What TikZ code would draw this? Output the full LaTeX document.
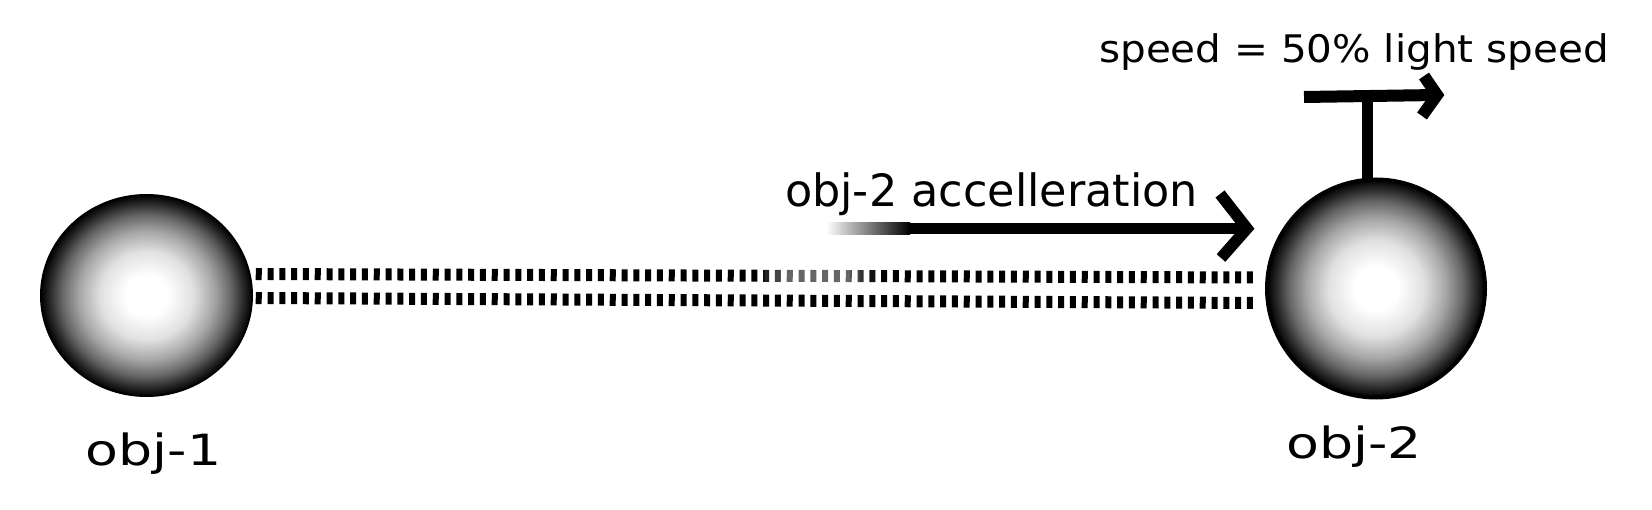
\documentclass[tikz,border=0pt]{standalone}
\usepackage{fontspec}
\setmainfont{DejaVu Sans}
\usetikzlibrary{positioning, calc, shapes.geometric}
\pgfdeclareradialshading{sphereshade}{\pgfpoint{0bp}{0bp}}{color(0bp)=(white); color(5bp)=(white); color(11bp)=(black!12); color(16bp)=(black!35); color(20bp)=(black!60); color(23bp)=(black!85); color(25bp)=(black); color(50bp)=(black)}
\tikzset{
    sphere/.style={draw, shade, shading=sphereshade, inner sep=0pt, outer sep=0pt},
    objlabel/.style={anchor=base, inner sep=0pt, font=\fontsize{43}{50}\selectfont, xscale=1.25},
    textlabel/.style={anchor=base, inner sep=0pt},
    dashlink/.style={line width=12pt, dash pattern=on 6pt off 5.8pt},
    fatline/.style={line width=11.5pt, line join=miter}
}

\begin{document}
\begin{tikzpicture}[x=1pt, y=-1pt]
  \useasboundingbox (0,0) rectangle (1652,510);
  \node(obj1)[sphere, ellipse, minimum width=211.5pt, minimum height=201.5pt, line width=1.5pt] at (146.5,295.5){};
  \node(obj2)[sphere, circle, minimum size=218pt, line width=4pt] at (1376,288.5){};
  \node(lbl1)[objlabel] at (153.5,465){obj-1};
  \node(lbl2)[objlabel] at (1354,458){obj-2};
  \draw[dashlink]($(obj1.east)+(3.5,-21.5)$)--($(obj2.west)+(-9,-11)$);
  \draw[dashlink]($(obj1.east)+(3.5,2.5)$)--($(obj2.west)+(-9,14.5)$);
  \foreach \x in {760,765,...,870}{
    \pgfmathsetmacro\o{.4*min(1,(\x-755)/30,(875-\x)/30)}
    \fill[white, fill opacity=\o](\x,266) rectangle ++(5,20);
  }
  \coordinate(acctail) at (826,228.5);
  \coordinate(accfull) at (910,228.5);
  \coordinate(acchead) at (1247,228.5);
  \shade[left color=white, right color=black]($(acctail)+(0,-5.75)$) rectangle ($(accfull)+(0,5.75)$);
  \draw[fatline](accfull)--(acchead);
  \draw[fatline]($(acchead)+(-27,-34.5)$)--(acchead)--($(acchead)+(-26,29.5)$);
  \node(acctext)[textlabel, font=\fontsize{44.5}{52}\selectfont] at (991.5,207){obj-2 accelleration};
  \coordinate(spdjoin) at (1367.5,97);
  \coordinate(spdtail) at (1304,97);
  \coordinate(spdhead) at (1437,95);
  \draw[line width=11pt]($(obj2.north)+(-8.5,2)$)--(spdjoin);
  \draw[line width=12pt](spdtail)--(spdhead);
  \draw[fatline, line width=12pt]($(spdhead)+(-13,-19)$)--(spdhead)--($(spdhead)+(-15,21)$);
  \node(spdtext)[textlabel, font=\fontsize{38}{45}\selectfont, xscale=1.065] at (1354,62.5){speed = 50\% light speed};
\end{tikzpicture}
\end{document}
